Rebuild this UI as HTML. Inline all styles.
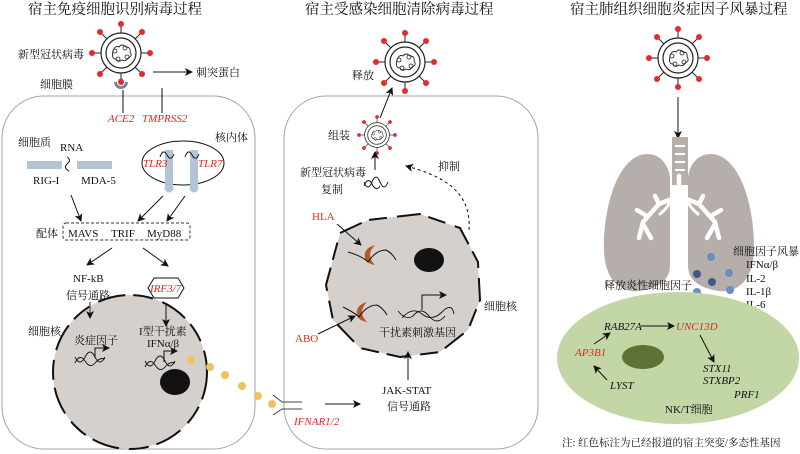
<!DOCTYPE html>
<html><head><meta charset="utf-8"><style>
html,body{margin:0;padding:0;background:#fff;width:800px;height:454px;overflow:hidden}
svg{display:block}
text{font-family:"Liberation Serif","Noto Serif CJK SC","Noto Sans CJK SC",serif;font-size:11px;fill:#111}
.t{font-size:14.5px}
.r{fill:#e8231f}
.i{font-style:italic}
</style></head><body>
<svg width="800" height="454" viewBox="0 0 800 454" xmlns="http://www.w3.org/2000/svg">
<defs>
<marker id="a" markerWidth="8" markerHeight="8" refX="7" refY="4" orient="auto" markerUnits="userSpaceOnUse"><path d="M0,0 L8,4 L0,8 L2,4 Z" fill="#111"/></marker>
<g id="v">
<g stroke="#222" stroke-width="1">
<line x1="0" y1="-20" x2="0" y2="-29"/><line x1="0" y1="20" x2="0" y2="29"/>
<line x1="-20" y1="0" x2="-29" y2="0"/><line x1="20" y1="0" x2="29" y2="0"/>
<line x1="14" y1="-14" x2="21" y2="-21"/><line x1="-14" y1="-14" x2="-21" y2="-21"/>
<line x1="14" y1="14" x2="21" y2="21"/><line x1="-14" y1="14" x2="-21" y2="21"/>
</g>
<g fill="#e52a2a">
<circle cx="0" cy="-29" r="3"/><circle cx="0" cy="29" r="3"/><circle cx="-29" cy="0" r="3"/><circle cx="29" cy="0" r="3"/>
<circle cx="21" cy="-21" r="3"/><circle cx="-21" cy="-21" r="3"/><circle cx="21" cy="21" r="3"/><circle cx="-21" cy="21" r="3"/>
</g>
<circle r="20" fill="#fff" stroke="#222" stroke-width="1.2"/>
<circle r="15" fill="none" stroke="#222" stroke-width="1.2"/>
<path d="M-8,-2 q2,-6 6,-4 q3,-4 7,0 q5,0 4,5 q3,4 -2,6 q-2,4 -6,2 q-4,3 -6,-1 q-5,0 -3,-8z" fill="none" stroke="#222" stroke-width="0.9"/>
<circle cx="-6" cy="-2" r="2" fill="none" stroke="#222" stroke-width="0.8"/><circle cx="4" cy="-5" r="2" fill="none" stroke="#222" stroke-width="0.8"/><circle cx="6" cy="4" r="2" fill="none" stroke="#222" stroke-width="0.8"/><circle cx="-3" cy="6" r="2" fill="none" stroke="#222" stroke-width="0.8"/>
</g>
<path id="dna" d="M0,0 q5,10 10,0 t10,0 t10,0 M0,6 q5,-10 10,-2 t10,2 t10,-4" fill="none" stroke="#111" stroke-width="0.9"/>
</defs>

<!-- titles -->
<text class="t" x="28" y="14">宿主免疫细胞识别病毒过程</text>
<text class="t" x="305" y="14">宿主受感染细胞清除病毒过程</text>
<text class="t" x="570" y="14">宿主肺组织细胞炎症因子风暴过程</text>

<!-- cells -->
<rect x="2" y="96" width="253" height="353" rx="42" fill="#fff" stroke="#a9a3a3" stroke-width="1"/>
<rect x="284" y="96" width="254" height="353" rx="42" fill="#fff" stroke="#a9a3a3" stroke-width="1"/>

<!-- left panel -->
<use href="#v" x="121" y="53"/>
<text x="18" y="58">新型冠状病毒</text>
<text x="40" y="88">细胞膜</text>
<line x1="153" y1="72" x2="192" y2="72" stroke="#111" marker-end="url(#a)"/>
<text x="196" y="76">刺突蛋白</text>
<path d="M114,82 a7,7 0 0 0 14,0 l-3,0 a4,4 0 0 1 -8,0 z" fill="#6c86a8"/>
<circle cx="121" cy="81" r="2.5" fill="#e52a2a"/>
<line x1="123" y1="90" x2="123" y2="113" stroke="#111"/>
<line x1="162" y1="88" x2="162" y2="113" stroke="#111"/>
<text class="r i" x="108" y="122">ACE2</text>
<text class="r i" x="142" y="122">TMPRSS2</text>

<text x="18" y="146">细胞质</text>
<text x="60" y="151">RNA</text>
<rect x="27" y="161" width="35" height="8" fill="#b3c3d6"/>
<rect x="77" y="161" width="35" height="8" fill="#b3c3d6"/>
<path d="M67,157 q5,3 0,7 q-4,4 2,7" fill="none" stroke="#111"/>
<text x="33" y="184">RIG-I</text>
<text x="81" y="184">MDA-5</text>

<ellipse cx="183" cy="163" rx="41" ry="22" fill="none" stroke="#111"/>
<text x="215" y="141">核内体</text>
<rect x="165" y="150" width="8" height="38" fill="#b3c3d6"/><circle cx="169" cy="188" r="4.5" fill="#b3c3d6"/>
<rect x="190" y="150" width="8" height="38" fill="#b3c3d6"/><circle cx="194" cy="188" r="4.5" fill="#b3c3d6"/>
<path d="M160,157 q3,-9 7,-2 t7,-1 M185,157 q3,-9 7,-2 t7,-1" fill="none" stroke="#111"/>
<text class="r i" x="143" y="167">TLR3</text>
<text class="r i" x="198" y="167">TLR7</text>

<line x1="71" y1="195" x2="81" y2="221" stroke="#111" marker-end="url(#a)"/>
<line x1="163" y1="196" x2="138" y2="221" stroke="#111" marker-end="url(#a)"/>
<line x1="185" y1="196" x2="167" y2="221" stroke="#111" marker-end="url(#a)"/>
<rect x="63" y="223" width="127" height="17" rx="3" fill="none" stroke="#333" stroke-dasharray="3,2"/>
<text x="36" y="237">配体</text>
<text x="68" y="237">MAVS</text><text x="111" y="237">TRIF</text><text x="147" y="237">MyD88</text>
<line x1="112" y1="248" x2="87" y2="265" stroke="#111" marker-end="url(#a)"/>
<line x1="143" y1="248" x2="168" y2="266" stroke="#111" marker-end="url(#a)"/>
<text x="73" y="282">NF-kB</text>
<text x="66" y="299">信号通路</text>
<polygon points="148,288 154,278 178,278 184,288 178,298 154,298" fill="#fff" stroke="#111"/>
<text class="r i" x="150" y="292">IRF3/7</text>

<!-- left nucleus -->
<circle cx="130" cy="372" r="77" fill="#d6d0cd"/>
<circle cx="130" cy="372" r="77" fill="none" stroke="#111" stroke-width="2" stroke-dasharray="28,8,20,10"/>
<line x1="90" y1="302" x2="90" y2="318" stroke="#555" stroke-width="1.3" marker-end="url(#a)"/>
<line x1="166" y1="303" x2="166" y2="326" stroke="#111" marker-end="url(#a)"/>
<text x="28" y="335">细胞核</text>
<text x="74" y="344">炎症因子</text>
<text x="139" y="335">I型干扰素</text>
<text x="147" y="347">IFNα/β</text>
<use href="#dna" x="75" y="357"/>
<path d="M95,358 v-10 h14" fill="none" stroke="#111" marker-end="url(#a)"/>
<use href="#dna" x="145" y="361"/>
<path d="M164,362 v-11 h13" fill="none" stroke="#111" marker-end="url(#a)"/>
<ellipse cx="175" cy="382" rx="15" ry="13" fill="#111"/>
<g fill="#f2c15c">
<circle cx="191" cy="360" r="4"/><circle cx="210" cy="367" r="4"/><circle cx="225" cy="375" r="4"/><circle cx="242" cy="386" r="4"/><circle cx="258" cy="396" r="4"/><circle cx="272" cy="404" r="4"/>
</g>
<path d="M273,395 l9,7 h20 M273,415 l9,-6 h20" fill="none" stroke="#444"/>
<text class="r i" x="294" y="425">IFNAR1/2</text>
<line x1="325" y1="404" x2="360" y2="404" stroke="#444" stroke-width="1.3" marker-end="url(#a)"/>

<!-- middle panel -->
<use href="#v" x="405" y="62"/>
<text x="352" y="79">释放</text>
<line x1="380" y1="118" x2="392" y2="88" stroke="#111" marker-end="url(#a)"/>
<g transform="translate(377,135) scale(0.62)"><use href="#v"/></g>
<text x="328" y="139">组装</text>
<line x1="375" y1="170" x2="375" y2="152" stroke="#111" marker-end="url(#a)"/>
<text x="300" y="176">新型冠状病毒</text>
<text x="321" y="193">复制</text>
<path d="M364,182 q4,10 8,0 t8,0 t8,0 M364,186 q4,-10 8,-2 t8,2" fill="none" stroke="#111"/>
<path d="M469,230 C472,190 440,175 406,166" fill="none" stroke="#111" stroke-dasharray="3,3" marker-end="url(#a)"/>
<text x="438" y="170">抑制</text>

<path d="M340,233 L368,220 L420,214 L460,228 L478,262 L480,300 L468,330 L440,352 L400,357 L360,348 L333,320 L326,285 Z" fill="#d6d0cd"/>
<path d="M340,233 L368,220 L420,214 L460,228 L478,262 L480,300 L468,330 L440,352 L400,357 L360,348 L333,320 L326,285 Z" fill="none" stroke="#111" stroke-width="2" stroke-dasharray="24,8,18,10"/>
<ellipse cx="429" cy="260" rx="15" ry="12" fill="#111"/>
<text class="r" x="312" y="220">HLA</text>
<line x1="337" y1="224" x2="361" y2="245" stroke="#111" marker-end="url(#a)"/>
<path d="M375,245 q-10,10 0,20 q-12,-2 -10,-12 q2,-6 10,-8z" fill="#b45a25"/>
<path d="M348,252 q14,4 20,10 q8,-12 18,-12 q6,3 10,10" fill="none" stroke="#111"/>
<text class="r" x="295" y="342">ABO</text>
<line x1="318" y1="334" x2="355" y2="316" stroke="#111" marker-end="url(#a)"/>
<path d="M367,302 q-10,10 0,20 q-12,-2 -10,-12 q2,-6 10,-8z" fill="#b45a25"/>
<path d="M343,307 q12,6 16,10 q8,-12 18,-12 q6,3 10,10" fill="none" stroke="#111"/>
<path d="M398,311 q8,10 15,5 q8,-10 16,0 t16,0 M402,318 q10,-12 20,-4 t20,-2 t12,2" fill="none" stroke="#111" stroke-width="0.9"/>
<path d="M422,310 v-15 h24" fill="none" stroke="#111" marker-end="url(#a)"/>
<text x="379" y="336">干扰素刺激基因</text>
<text x="484" y="310">细胞核</text>
<line x1="408" y1="380" x2="408" y2="352" stroke="#111" marker-end="url(#a)"/>
<text x="382" y="394">JAK-STAT</text>
<text x="387" y="410">信号通路</text>

<!-- right panel -->
<use href="#v" x="678" y="58"/>
<line x1="678" y1="97" x2="678" y2="138" stroke="#111" marker-end="url(#a)"/>
<path d="M670,178 C668,158 652,150 638,156 C612,168 603,220 604,250 C605,285 625,295 645,290 C662,286 670,278 670,265 Z" fill="#b6aeab"/>
<path d="M688,178 C690,158 706,150 720,156 C746,168 755,220 754,250 C753,285 733,295 713,290 C696,286 688,278 688,265 Z" fill="#b6aeab"/>
<rect x="672" y="137" width="16" height="48" fill="#b6aeab"/>
<g stroke="#fff" stroke-width="2"><line x1="675" y1="146" x2="685" y2="146"/><line x1="675" y1="154" x2="685" y2="154"/><line x1="675" y1="162" x2="685" y2="162"/><line x1="675" y1="170" x2="685" y2="170"/></g>
<path d="M679,176 v20 M679,196 l-20,8 l-16,18 l-4,16 M659,204 l-4,-8 M647,216 l-10,-6 M643,224 l8,14 M679,196 l20,8 l16,18 l4,16 M699,204 l4,-8 M711,216 l10,-6 M715,224 l-8,14" fill="none" stroke="#fff" stroke-width="4.5" stroke-linecap="round"/>
<path d="M672,198 q-4,10 -12,16 M686,198 q4,10 12,16" fill="none" stroke="#fff" stroke-width="3" stroke-linecap="round"/>
<text x="733" y="255">细胞因子风暴</text>
<text x="746" y="268">IFNα/β</text>
<text x="746" y="282">IL-2</text>
<text x="746" y="295">IL-1β</text>
<text x="746" y="308">IL-6</text>
<g fill="#6b8fc4"><circle cx="711" cy="257" r="4"/><circle cx="729" cy="273" r="4"/><circle cx="730" cy="290" r="4"/><circle cx="697" cy="292" r="4"/></g>
<g fill="#41598a"><circle cx="697" cy="274" r="4"/><circle cx="712" cy="282" r="4"/></g>
<text x="604" y="289">释放炎性细胞因子</text>
<ellipse cx="678" cy="358" rx="121" ry="66" fill="#c3d6a6"/>
<ellipse cx="643" cy="357" rx="21" ry="12" fill="#5f7236"/>
<text class="i" x="604" y="330">RAB27A</text>
<line x1="641" y1="326" x2="674" y2="326" stroke="#111" marker-end="url(#a)"/>
<text class="r i" x="676" y="330">UNC13D</text>
<line x1="700" y1="335" x2="714" y2="362" stroke="#111" marker-end="url(#a)"/>
<text class="i" x="703" y="372">STX11</text>
<text class="i" x="703" y="384">STXBP2</text>
<text class="i" x="734" y="398">PRF1</text>
<text class="r i" x="575" y="356">AP3B1</text>
<line x1="594" y1="344" x2="610" y2="333" stroke="#111" marker-end="url(#a)"/>
<text class="i" x="610" y="389">LYST</text>
<line x1="607" y1="380" x2="594" y2="366" stroke="#111" marker-end="url(#a)"/>
<text x="665" y="413">NK/T细胞</text>
<text x="562" y="446" style="font-size:10.5px">注: 红色标注为已经报道的宿主突变/多态性基因</text>
</svg>
</body></html>
